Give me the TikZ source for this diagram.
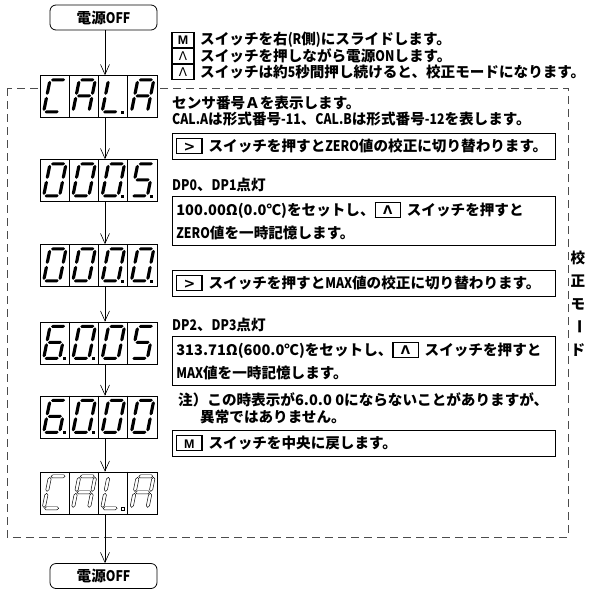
\documentclass[tikz,border=0pt]{standalone}
\usepackage{fontspec}
\setmainfont{Noto Sans CJK JP}
\newfontfamily\latf[FakeStretch=0.84]{Noto Sans CJK JP}
\newfontfamily\symf{DejaVu Sans}
\newfontfamily\keyf{Liberation Sans}
\usetikzlibrary{arrows.meta,calc}
\newcommand\jfont{\fontsize{14.6}{23}\selectfont\bfseries}
\newcommand\lt[1]{{\latf #1}}
\newcommand\kb[1]{{\setlength\fboxrule{1.1pt}\setlength\fboxsep{0pt}\fbox{\makebox[24pt]{\rule[-1.7pt]{0pt}{14pt}#1}}}}
\newcommand\kM{{\keyf\bfseries\fontsize{12.5}{12.5}\selectfont M}}
\newcommand\kU{\raisebox{0.6pt}{\symf\fontsize{12}{12}\selectfont Λ}}
\newcommand\kR{{\symf\fontsize{14}{14}\selectfont >}}
\def\hseg#1#2#3{(#1,#3)--(#1+1.6,#3+1.6)--(#2-1.6,#3+1.6)--(#2,#3)--(#2-1.6,#3-1.6)--(#1+1.6,#3-1.6)--cycle }
\def\vseg#1#2#3{(#1,#2)--(#1+1.6,#2+1.6)--(#1+1.6,#3-1.6)--(#1,#3)--(#1-1.6,#3-1.6)--(#1-1.6,#2+1.6)--cycle }
\def\sga{\hseg{1}{15}{32}}
\def\sgg{\hseg{1}{15}{16}}
\def\sgd{\hseg{1}{15}{0}}
\def\sgf{\vseg{0}{17}{31}}
\def\sge{\vseg{0}{1}{15}}
\def\sgb{\vseg{16}{17}{31}}
\def\sgc{\vseg{16}{1}{15}}
\def\dgzero{\sga\sgb\sgc\sgd\sge\sgf}
\def\dgfive{\sga\sgf\sgg\sgc\sgd}
\def\dgsix{\sga\sgf\sgg\sge\sgd\sgc}
\def\dgC{\sga\sgf\sge\sgd}
\def\dgA{\sga\sgb\sgc\sge\sgf\sgg}
\def\dgL{\sgf\sge\sgd}
\newcommand\dig[4]{\begin{scope}[shift={($(#1.south west)+(#2*29.25+4,-6)$)}, yscale=-1, xslant=-0.2]\path[#4] #3;\end{scope}}
\newcommand\dpnt[3]{\path[#3] ($(#1.south west)+(#2*29.25+23,-4)$) rectangle ++(3,-3);}
\newcommand\cells[1]{\foreach \i in {1,2,3}{\draw[cellsep] ($(#1.north west)+(\i*29.25,0)$) -- ($(#1.south west)+(\i*29.25,0)$);}}
\tikzset{
 dispbox/.style={draw, fill=white, line width=0.7pt, minimum width=117pt, minimum height=42pt, inner sep=0pt},
 cellsep/.style={line width=0.5pt},
 lit/.style={fill=black},
 unlit/.style={draw=black, line width=0.45pt, fill=white},
 jt/.style={anchor=west, inner sep=0pt, font=\jfont},
 tbox/.style={draw, line width=0.7pt, anchor=north west, inner xsep=4pt, inner ysep=0pt, text width=375pt, align=left, font=\jfont},
 keyn/.style={draw, line width=1.1pt, minimum width=22pt, minimum height=15pt, inner sep=0pt},
 pwr/.style={draw, line width=0.8pt, rounded corners=6pt, minimum width=107pt, minimum height=25pt, font=\jfont},
 arr/.style={line width=0.6pt, -{Straight Barb[length=10pt,width=9pt]}},
 dashbox/.style={draw=black!70, line width=0.8pt, dash pattern=on 8pt off 5pt},
}
\begin{document}
\begin{tikzpicture}[x=1pt,y=-1pt]
\useasboundingbox (0,0) rectangle (592,590);
\draw[dashbox] (7,88) rectangle (568,537);
\coordinate (ax) at (105,0);
% power boxes
\node[pwr] (p1) at (103.5,17.5) {電源\lt{OFF}};
\node[pwr] (p2) at (103.5,576) {電源\lt{OFF}};
% legend
\node[keyn] (k1) at (183,40) {\kM};
\node[keyn] (k2) at (183,56) {\kU};
\node[keyn] (k3) at (183,72) {\kU};
\node[jt] (l1) at (200,40) {スイッチを右\lt{(R}側\lt{)}にスライドします。};
\node[jt] (l2) at (200,56) {スイッチを押しながら電源\lt{ON}します。};
\node[jt] (l3) at (200,72) {スイッチは約\lt{5}秒間押し続けると、校正モードになります。};
% displays
\node[dispbox] (d1) at (98.5,96.5) {};
\node[dispbox] (d2) at (98.5,180.5) {};
\node[dispbox] (d3) at (98.5,265.5) {};
\node[dispbox] (d4) at (98.5,343) {};
\node[dispbox] (d5) at (98.5,417) {};
\node[dispbox] (d6) at (98.5,493) {};
\cells{d1}\cells{d2}\cells{d3}\cells{d4}\cells{d5}\cells{d6}
% d1 CAL.A
\dig{d1}{0}{\dgC}{lit}\dig{d1}{1}{\dgA}{lit}\dig{d1}{2}{\dgL}{lit}\dig{d1}{3}{\dgA}{lit}
\dpnt{d1}{2}{lit}
% d2 000.5.
\dig{d2}{0}{\dgzero}{lit}\dig{d2}{1}{\dgzero}{lit}\dig{d2}{2}{\dgzero}{lit}\dig{d2}{3}{\dgfive}{lit}
\dpnt{d2}{2}{lit}\dpnt{d2}{3}{lit}
% d3 000.0.
\dig{d3}{0}{\dgzero}{lit}\dig{d3}{1}{\dgzero}{lit}\dig{d3}{2}{\dgzero}{lit}\dig{d3}{3}{\dgzero}{lit}
\dpnt{d3}{2}{lit}\dpnt{d3}{3}{lit}
% d4 6.0.05
\dig{d4}{0}{\dgsix}{lit}\dig{d4}{1}{\dgzero}{lit}\dig{d4}{2}{\dgzero}{lit}\dig{d4}{3}{\dgfive}{lit}
\dpnt{d4}{0}{lit}\dpnt{d4}{1}{lit}
% d5 6.0.00
\dig{d5}{0}{\dgsix}{lit}\dig{d5}{1}{\dgzero}{lit}\dig{d5}{2}{\dgzero}{lit}\dig{d5}{3}{\dgzero}{lit}
\dpnt{d5}{0}{lit}\dpnt{d5}{1}{lit}
% d6 CAL.A outlined
\dig{d6}{0}{\dgC}{unlit}\dig{d6}{1}{\dgA}{unlit}\dig{d6}{2}{\dgL}{unlit}\dig{d6}{3}{\dgA}{unlit}
\dpnt{d6}{2}{unlit}
% arrows
\draw[arr] (p1.south -| ax) -- (d1.north -| ax);
\draw[arr] (d1.south -| ax) -- (d2.north -| ax);
\draw[arr] (d2.south -| ax) -- (d3.north -| ax);
\draw[arr] (d3.south -| ax) -- (d4.north -| ax);
\draw[arr] (d4.south -| ax) -- (d5.north -| ax);
\draw[arr] (d5.south -| ax) -- (d6.north -| ax);
\draw[arr] (d6.south -| ax) -- (p2.north -| ax);
% texts
\node[jt] (t1) at (172,103) {センサ番号Ａを表示します。};
\node[jt] (t2) at (172,119) {\lt{CAL.A}は形式番号\lt{-11}、\lt{CAL.B}は形式番号\lt{-12}を表します。};
\node[tbox, minimum height=25.5pt] (b1) at (172,133) {\kb{\kR}\hspace{6pt}スイッチを押すと\lt{ZERO}値の校正に切り替わります。};
\node[jt] (t3) at (172,185) {\lt{DP0}、\lt{DP1}点灯};
\node[tbox, minimum height=49pt] (b2) at (172,196) {100.00Ω(0.0℃)をセットし、\kb{\kU}\hspace{6pt}スイッチを押すと\\\lt{ZERO}値を一時記憶します。};
\node[tbox, minimum height=26pt] (b3) at (172,270) {\kb{\kR}\hspace{6pt}スイッチを押すと\lt{MAX}値の校正に切り替わります。};
\node[jt] (t4) at (172,325) {\lt{DP2}、\lt{DP3}点灯};
\node[tbox, minimum height=49pt] (b4) at (172,336) {313.71Ω(600.0℃)をセットし、\kb{\kU}\hspace{6pt}スイッチを押すと\\\lt{MAX}値を一時記憶します。};
\node[jt] (n1) at (178,400) {注）この時表示が6.0.0 0にならないことがありますが、};
\node[jt] (n2) at (200,417) {異常ではありません。};
\node[tbox, minimum height=26pt] (b5) at (172,430) {\kb{\kM}\hspace{6pt}スイッチを中央に戻します。};
% vertical label
\node[jt, anchor=center] (v1) at (578,258) {校};
\node[jt, anchor=center] (v2) at (578,281) {正};
\node[jt, anchor=center] (v3) at (578,304) {モ};
\node[jt, anchor=center, rotate=-90] (v4) at (578,327) {ー};
\node[jt, anchor=center] (v5) at (578,350) {ド};
\end{tikzpicture}
\end{document}
